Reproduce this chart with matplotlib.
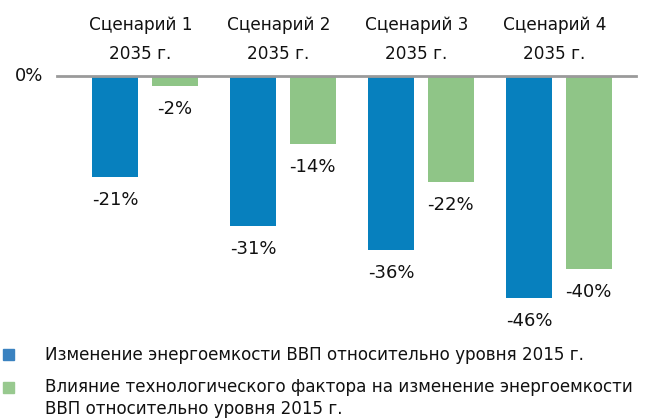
import matplotlib
matplotlib.use("Agg")
import matplotlib.pyplot as plt
import numpy as np

plt.rcParams['font.family'] = ['DejaVu Sans']

scenarios = ["Сценарий 1\n2035 г.", "Сценарий 2\n2035 г.", "Сценарий 3\n2035 г.", "Сценарий 4\n2035 г."]
energy_intensity = [-21, -31, -36, -46]
tech_factor = [-2, -14, -22, -40]
series_names = ["Изменение энергоемкости ВВП относительно уровня 2015 г.",
                "Влияние технологического фактора на изменение энергоемкости\nВВП относительно уровня 2015 г."]

blue = "#0780BE"
green = "#8FC587"

W, H = 645, 419
fig = plt.figure(figsize=(W / 100, H / 100), dpi=100)
ax = fig.add_axes([57 / W, 1 - 298 / H, (636 - 57) / W, (298 - 76) / H])

x = np.arange(len(scenarios))
bw = 0.333
off = 0.216
ax.bar(x - off, energy_intensity, width=bw, color=blue)
ax.bar(x + off, tech_factor, width=bw, color=green)
ax.set_xlim(-0.638, 3.558)
ax.set_ylim(-46, 0)
ax.set_axis_off()
ax.axhline(0, color="#9a9a9a", lw=2, clip_on=False, zorder=3)

fs = 12.2
vfs = 13
tc = "#111111"
px_per_unit = (298 - 76) / 46.0
dy = 23 / px_per_unit
for xi, v in zip(x - off, energy_intensity):
    ax.text(xi, v - dy, f"{v}%", ha="center", va="center", fontsize=vfs, color=tc, clip_on=False)
for xi, v in zip(x + off, tech_factor):
    ax.text(xi, v - dy, f"{v}%", ha="center", va="center", fontsize=vfs, color=tc, clip_on=False)

for xi, s in zip(x, scenarios):
    l1, l2 = s.split("\n")
    ax.text(xi - 0.033, (76 - 25) / px_per_unit, l1, ha="center", va="center", fontsize=fs, color=tc, clip_on=False)
    ax.text(xi - 0.033, (76 - 54) / px_per_unit, l2, ha="center", va="center", fontsize=fs, color=tc, clip_on=False)

fig.text(29 / W, 1 - 76 / H, "0%", ha="center", va="center", fontsize=vfs, color=tc)

# legend
fig.patches.append(plt.Rectangle((3 / W, 1 - 360 / H), 11 / W, 11 / H, transform=fig.transFigure, color="#3a82c0", figure=fig))
fig.patches.append(plt.Rectangle((3 / W, 1 - 393 / H), 11 / W, 11 / H, transform=fig.transFigure, color="#98c98f", figure=fig))
lf = dict(ha="left", va="center", fontsize=12.1, color=tc)
fig.text(45 / W, 1 - 355 / H, series_names[0], **lf)
fig.text(45 / W, 1 - 387 / H, series_names[1].split("\n")[0], **lf)
fig.text(45 / W, 1 - 409 / H, series_names[1].split("\n")[1], **lf)

fig.savefig("out.png", dpi=100)
